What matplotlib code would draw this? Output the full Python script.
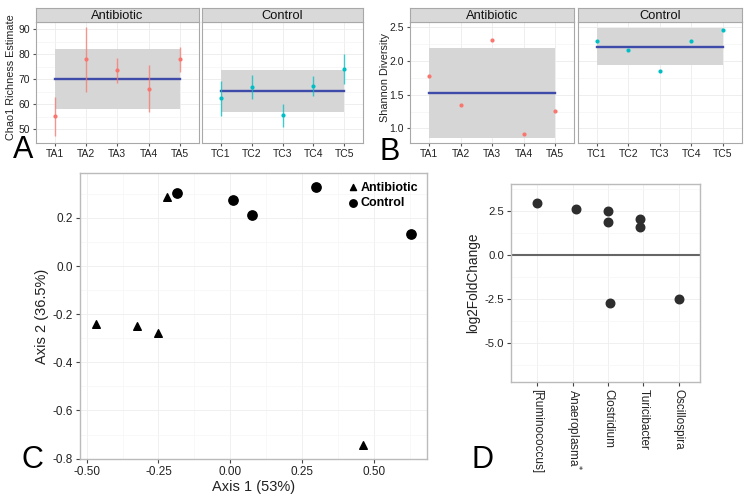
import matplotlib
matplotlib.use("Agg")
import matplotlib.pyplot as plt
import numpy as np

plt.rcParams['font.family'] = ['Liberation Sans', 'DejaVu Sans']

# ---------------- data ----------------
groups = ['Antibiotic', 'Control']
samples_ab = ['TA1', 'TA2', 'TA3', 'TA4', 'TA5']
samples_ct = ['TC1', 'TC2', 'TC3', 'TC4', 'TC5']

chao_ab = [55.3, 78.0, 73.6, 66.0, 78.0]
chao_ab_lo = [47.3, 65.0, 68.4, 56.8, 72.9]
chao_ab_hi = [63.0, 91.0, 78.6, 75.6, 83.0]
chao_ct = [62.4, 67.0, 55.6, 67.2, 74.0]
chao_ct_lo = [55.4, 62.0, 50.8, 63.3, 68.0]
chao_ct_hi = [69.3, 71.8, 60.1, 71.3, 80.0]
chao_mean = [70.1, 65.3]
chao_band_lo = [58.2, 56.8]
chao_band_hi = [82.0, 73.7]

shannon_ab = [1.77, 1.345, 2.31, 0.917, 1.257]
shannon_ct = [2.285, 2.156, 1.847, 2.285, 2.45]
shannon_mean = [1.518, 2.20]
shannon_band_lo = [0.86, 1.93]
shannon_band_hi = [2.18, 2.476]

pcoa_ab_x = [-0.468, -0.326, -0.252, -0.220, 0.462]
pcoa_ab_y = [-0.239, -0.248, -0.280, 0.286, -0.743]
pcoa_ct_x = [-0.184, 0.008, 0.077, 0.297, 0.629]
pcoa_ct_y = [0.305, 0.273, 0.212, 0.327, 0.135]

genera = ['[Ruminococcus]', 'Anaeroplasma$^{*}$', 'Clostridium', 'Turicibacter', 'Oscillospira']
da_genus = [0, 1, 2, 2, 2, 3, 3, 4]
da_jitter = [0.0, 0.09, 0.0, 0.0, 0.04, -0.09, -0.09, 0.0]
da_l2fc = [2.94, 2.60, 2.49, 1.88, -2.71, 2.05, 1.60, -2.47]

RED = '#F8766D'
TEAL = '#00BFC4'
BLUE = '#3F4BA8'
BAND = '#D6D6D6'
GRID = '#EBEBEB'
BORDER = '#A8A8A8'
TXT = '#222222'

W, H = 750, 504
fig = plt.figure(figsize=(7.5, 5.04), dpi=100)


def px_axes(x0, y0, x1, y1, **kw):
    return fig.add_axes([x0 / W, 1 - y1 / H, (x1 - x0) / W, (y1 - y0) / H], **kw)


def style_facet(ax, show_y):
    ax.set_facecolor('white')
    for s in ax.spines.values():
        s.set_color(BORDER)
        s.set_linewidth(0.8)
    ax.grid(True, which='major', color=GRID, lw=0.6)
    ax.grid(True, which='minor', axis='y', color='#F4F4F4', lw=0.5)
    ax.set_axisbelow(True)
    ax.tick_params(axis='both', length=2.5, color='#555555', labelsize=7.5,
                   labelcolor=TXT, pad=2)
    ax.tick_params(axis='y', which='minor', length=0)
    if not show_y:
        ax.tick_params(axis='y', which='both', length=0, labelleft=False)


def strip(x0, x1, label):
    s = px_axes(x0, 8.3, x1, 22)
    s.set_facecolor('#D9D9D9')
    s.set_xticks([])
    s.set_yticks([])
    for sp in s.spines.values():
        sp.set_color(BORDER)
        sp.set_linewidth(0.8)
    s.text(0.5, 0.45, label, ha='center', va='center', fontsize=9.3, color='#111111',
           transform=s.transAxes)


# ---------------- Panel A ----------------
panelA = [(36, 198.7, samples_ab, chao_ab, chao_ab_lo, chao_ab_hi, RED, 0),
          (201.7, 363.3, samples_ct, chao_ct, chao_ct_lo, chao_ct_hi, TEAL, 1)]
for x0, x1, labs, vals, lo, hi, col, gi in panelA:
    ax = px_axes(x0, 22, x1, 142.7)
    xs = np.arange(1, len(labs) + 1)
    ax.fill_between([1, 5], chao_band_lo[gi], chao_band_hi[gi], color=BAND, lw=0, zorder=1)
    ax.plot([1, 5], [chao_mean[gi]] * 2, color=BLUE, lw=1.7, zorder=2)
    ax.vlines(xs, lo, hi, color=col, lw=1.0, alpha=0.75, zorder=3)
    ax.plot(xs, vals, 'o', color=col, ms=3.0, mec='none', zorder=4)
    ax.set_xlim(0.39, 5.61)
    ax.set_ylim(44.6, 92.9)
    ax.set_xticks(xs)
    ax.set_xticklabels(labs)
    ax.set_yticks([50, 60, 70, 80, 90])
    ax.set_yticks([55, 65, 75, 85], minor=True)
    style_facet(ax, gi == 0)
    strip(x0, x1, groups[gi])
fig.text(11.5 / W, 1 - 77 / H, 'Chao1 Richness Estimate', rotation=90, ha='center',
         va='center', fontsize=7.8, color=TXT)
fig.text(23 / W, 1 - 150 / H, 'A', fontsize=22, ha='center', va='center', color='black')

# ---------------- Panel B ----------------
panelB = [(410, 574.3, samples_ab, shannon_ab, RED, 0),
          (577.7, 741.7, samples_ct, shannon_ct, TEAL, 1)]
for x0, x1, labs, vals, col, gi in panelB:
    ax = px_axes(x0, 22, x1, 142.7)
    xs = np.arange(1, len(labs) + 1)
    ax.fill_between([1, 5], shannon_band_lo[gi], shannon_band_hi[gi], color=BAND, lw=0, zorder=1)
    ax.plot([1, 5], [shannon_mean[gi]] * 2, color=BLUE, lw=1.7, zorder=2)
    ax.plot(xs, vals, 'o', color=col, ms=3.0, mec='none', zorder=4)
    ax.set_xlim(0.39, 5.61)
    ax.set_ylim(0.79, 2.57)
    ax.set_xticks(xs)
    ax.set_xticklabels(labs)
    ax.set_yticks([1.0, 1.5, 2.0, 2.5])
    ax.set_yticks([1.25, 1.75, 2.25], minor=True)
    style_facet(ax, gi == 0)
    strip(x0, x1, groups[gi])
fig.text(385 / W, 1 - 77 / H, 'Shannon Diversity', rotation=90, ha='center',
         va='center', fontsize=7.8, color=TXT)
fig.text(390 / W, 1 - 152 / H, 'B', fontsize=22, ha='center', va='center', color='black')

# ---------------- Panel C ----------------
axc = px_axes(80, 173, 427, 459.3)
axc.scatter(pcoa_ab_x, pcoa_ab_y, marker='^', s=30, color='black', label='Antibiotic', zorder=3)
axc.scatter(pcoa_ct_x, pcoa_ct_y, marker='o', s=45, color='black', label='Control', zorder=3)
axc.set_xlim(-0.523, 0.684)
axc.set_ylim(-0.803, 0.387)
axc.set_xticks([-0.5, -0.25, 0.0, 0.25, 0.5])
axc.set_xticklabels(['-0.50', '-0.25', '0.00', '0.25', '0.50'])
axc.set_xticks([-0.375, -0.125, 0.125, 0.375, 0.625], minor=True)
axc.set_yticks([0.2, 0.0, -0.2, -0.4, -0.6, -0.8])
axc.set_yticklabels(['0.2', '0.0', '-0.2', '-0.4', '-0.6', '-0.8'])
axc.set_yticks([0.3, 0.1, -0.1, -0.3, -0.5, -0.7], minor=True)
axc.grid(True, which='major', color='#EEEEEE', lw=0.6)
axc.grid(True, which='minor', color='#F6F6F6', lw=0.5)
axc.set_axisbelow(True)
for s in axc.spines.values():
    s.set_color('#BBBBBB')
    s.set_linewidth(1.0)
axc.tick_params(axis='both', which='major', length=3, color='#444444', labelsize=8.5,
                labelcolor=TXT, pad=2)
axc.tick_params(axis='both', which='minor', length=0)
axc.set_xlabel('Axis 1 (53%)', fontsize=10.5, color=TXT, labelpad=1)
axc.set_ylabel('Axis 2 (36.5%)', fontsize=10.5, color=TXT, labelpad=3)
leg = axc.legend(loc='upper right', frameon=False, handletextpad=0.1, handlelength=1.0,
                 borderaxespad=0.3, labelspacing=0.3, markerscale=0.8,
                 prop={'weight': 'bold', 'size': 9})
fig.text(32 / W, 1 - 460 / H, 'C', fontsize=22, ha='center', va='center', color='black')

# ---------------- Panel D ----------------
axd = px_axes(511, 184, 700, 381.7)
dx = np.array(da_genus) + 1 + np.array(da_jitter)
axd.axhline(0, color='#666666', lw=1.5, zorder=2)
axd.scatter(dx, da_l2fc, s=38, color='#2E2E2E', zorder=3)
axd.set_xlim(0.25, 5.6)
axd.set_ylim(-7.17, 4.01)
axd.set_xticks(np.arange(1, len(genera) + 1))
axd.set_xticklabels(genera, rotation=270, va='top', ha='center', fontsize=8.5)
axd.set_yticks([2.5, 0.0, -2.5, -5.0])
axd.set_yticklabels(['2.5', '0.0', '-2.5', '-5.0'])
axd.set_yticks([3.75, 1.25, -1.25, -3.75, -6.25], minor=True)
axd.grid(True, which='major', color='#EEEEEE', lw=0.6)
axd.grid(True, which='minor', axis='y', color='#F6F6F6', lw=0.5)
axd.set_axisbelow(True)
for s in axd.spines.values():
    s.set_color('#BBBBBB')
    s.set_linewidth(1.0)
axd.tick_params(axis='both', which='major', length=3, color='#444444', labelsize=8.2,
                labelcolor=TXT, pad=2)
axd.tick_params(axis='x', labelsize=8.5)
axd.tick_params(axis='both', which='minor', length=0)
axd.set_ylabel('log2FoldChange', fontsize=9.8, color=TXT, labelpad=3)
fig.text(482 / W, 1 - 460 / H, 'D', fontsize=22, ha='center', va='center', color='black')

fig.savefig('out.png', dpi=100, facecolor='white')
